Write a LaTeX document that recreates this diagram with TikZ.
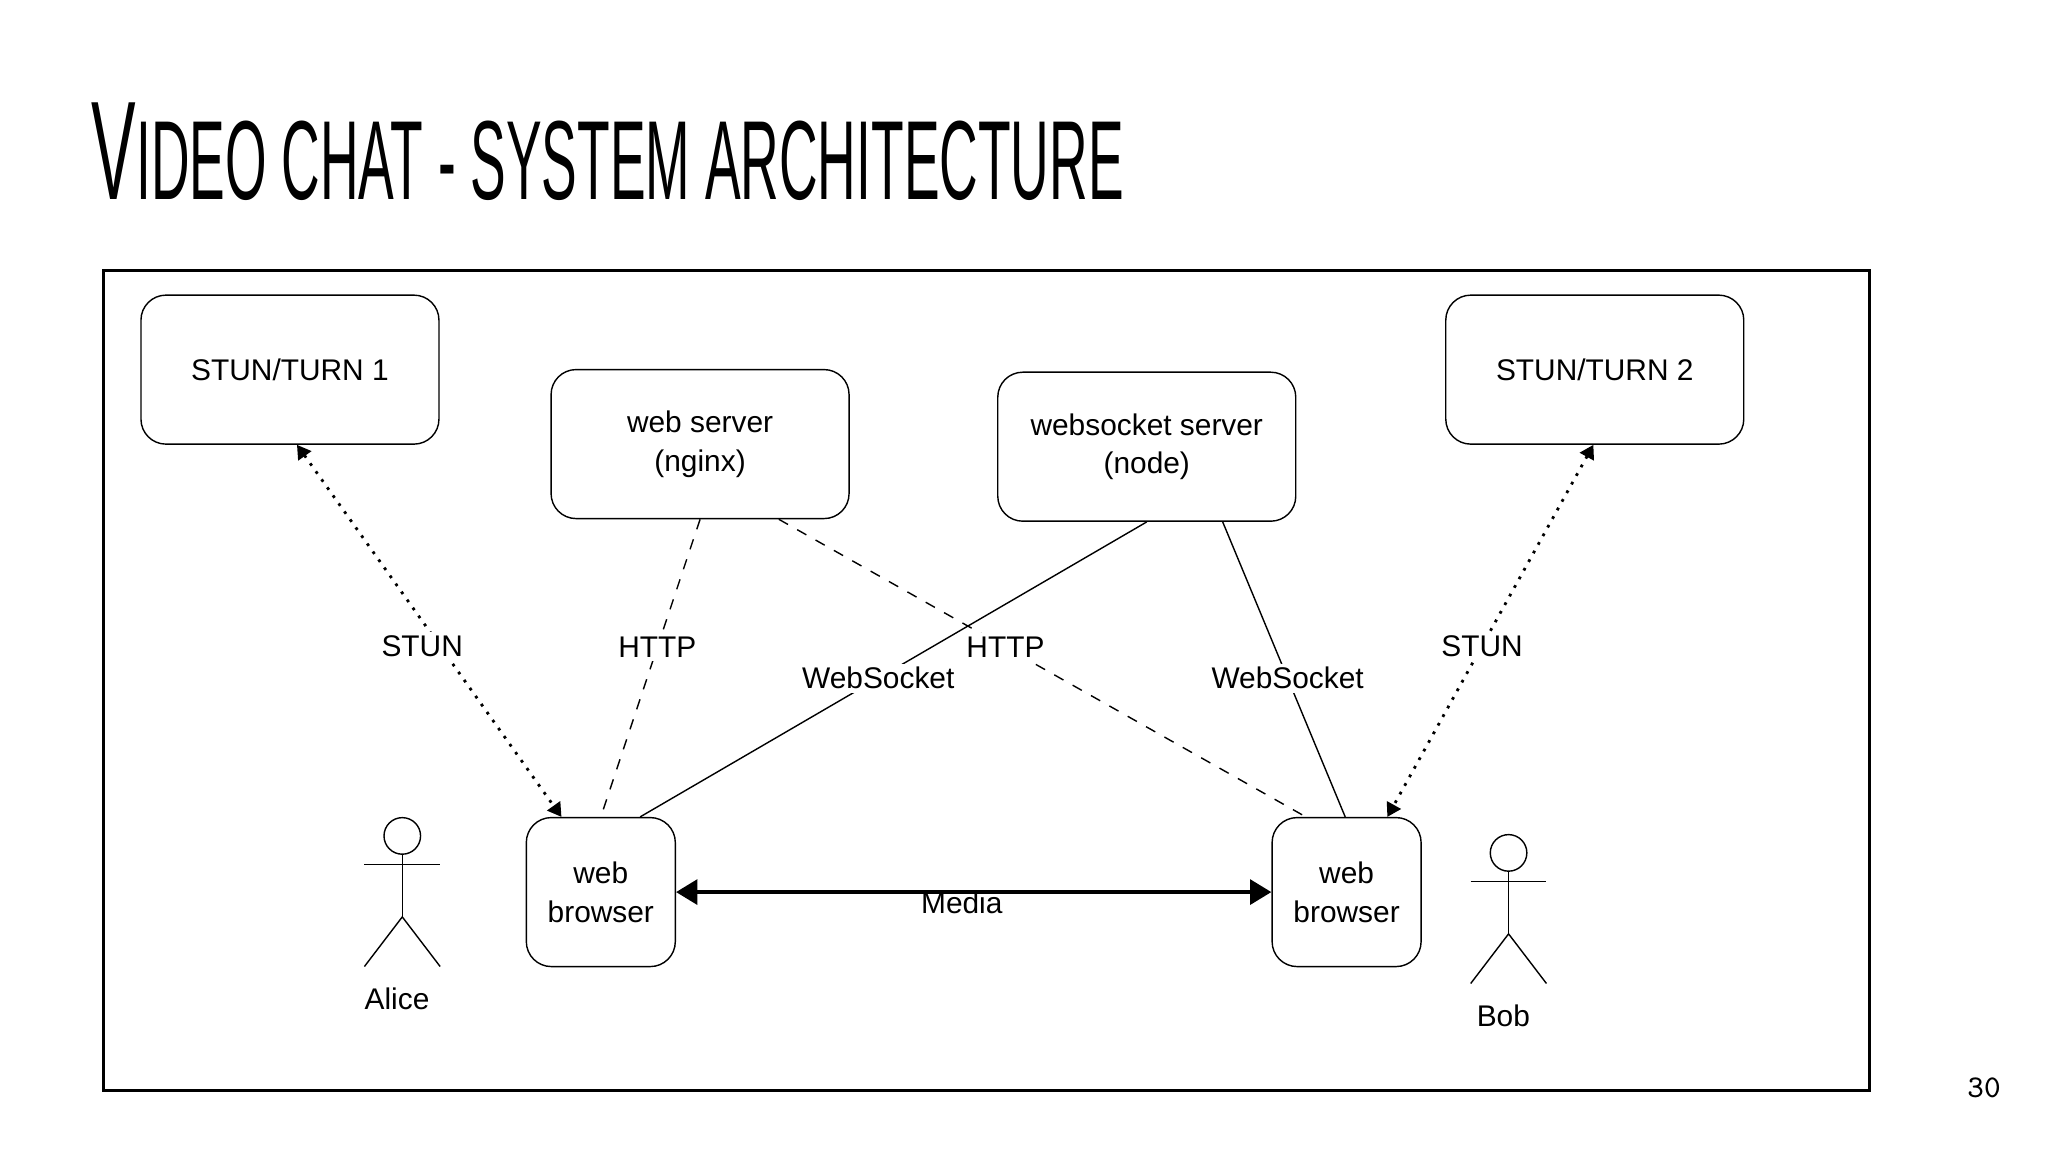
\documentclass[tikz,border=0pt]{standalone}
\usepackage{fontspec}
\setmainfont{Liberation Sans}
\usetikzlibrary{arrows.meta,positioning}

\begin{document}
\begin{tikzpicture}[
  x=0.01306cm, y=-0.01306cm,
  box/.style={draw, rounded corners=2.5mm, align=center, minimum width=2.98cm, minimum height=1.49cm, font=\fontsize{8.5}{11}\selectfont},
  small/.style={box, minimum width=1.49cm},
  lbl/.style={fill=white, inner sep=1pt, font=\fontsize{8.5}{10}\selectfont},
  stun/.style={dotted, thick, {Triangle[scale=0.8]}-{Triangle[scale=0.8]}},
  http/.style={dashed},
  ws/.style={}
]
  \useasboundingbox (0,0) rectangle (1568,882);
  \node[anchor=base west, inner sep=0, font=\fontsize{40}{42}\selectfont, xscale=0.475, transform shape] (title) at (70,153)
    {V{\fontsize{32}{34}\selectfont IDEO CHAT - SYSTEM ARCHITECTURE}};
  \node[draw, thick, minimum width=17.66cm, minimum height=8.2cm, anchor=north west, outer sep=0] (frame) at (79,207) {};

  \node[box] (stun1) at (222,283) {STUN/TURN 1};
  \node[box] (stun2) at (1221,283) {STUN/TURN 2};
  \node[box] (nginx) at (536,340) {web server\\(nginx)};
  \node[box] (wss) at (878,342) {websocket server\\(node)};
  \node[small] (alicebr) at (460,683) {web\\browser};
  \node[small] (bobbr) at (1031,683) {web\\browser};

  % actors
  \foreach \nm/\x/\y/\who in {alice/308/640/Alice, bob/1155/653/Bob} {
    \draw (\x,\y) circle[radius=14];
    \draw (\x,\y+14) -- (\x,\y+62);
    \draw (\x-29,\y+22) -- (\x+29,\y+22);
    \draw (\x-29,\y+100) -- (\x,\y+62) -- (\x+29,\y+100);
    \node[font=\fontsize{8.5}{10}\selectfont] (\nm) at (\x-4,\y+125) {\who};
  }

  \draw[stun] ([xshift=2pt]stun1.south) -- node[lbl, pos=0.54, xshift=-5pt] {STUN} ([xshift=-11.2pt]alicebr.north);
  \draw[stun] ([xshift=-0.4pt]stun2.south) -- node[lbl, pos=0.54] {STUN} ([xshift=11.6pt]bobbr.north);
  \draw[http] (nginx.south) -- node[lbl, pos=0.43] {HTTP} ([xshift=0pt]alicebr.north);
  \draw[http] ([xshift=22.4pt]nginx.south) -- node[lbl, pos=0.43] {HTTP} ([xshift=-11.6pt]bobbr.north);
  \draw[ws] (wss.south) -- node[lbl, pos=0.53] {WebSocket} ([xshift=11.2pt]alicebr.north);
  \draw[ws] ([xshift=21.6pt]wss.south) -- node[lbl, pos=0.53] {WebSocket} ([xshift=-0.4pt]bobbr.north);
  \draw[very thick, {Triangle[scale=1.0]}-{Triangle[scale=1.0]}] (alicebr) -- node[lbl, fill=none, pos=0.48, yshift=-3pt] {Media} (bobbr);

  \node[font=\ttfamily\fontsize{9}{10}\selectfont] (page) at (1519,833) {30};
\end{tikzpicture}
\end{document}
